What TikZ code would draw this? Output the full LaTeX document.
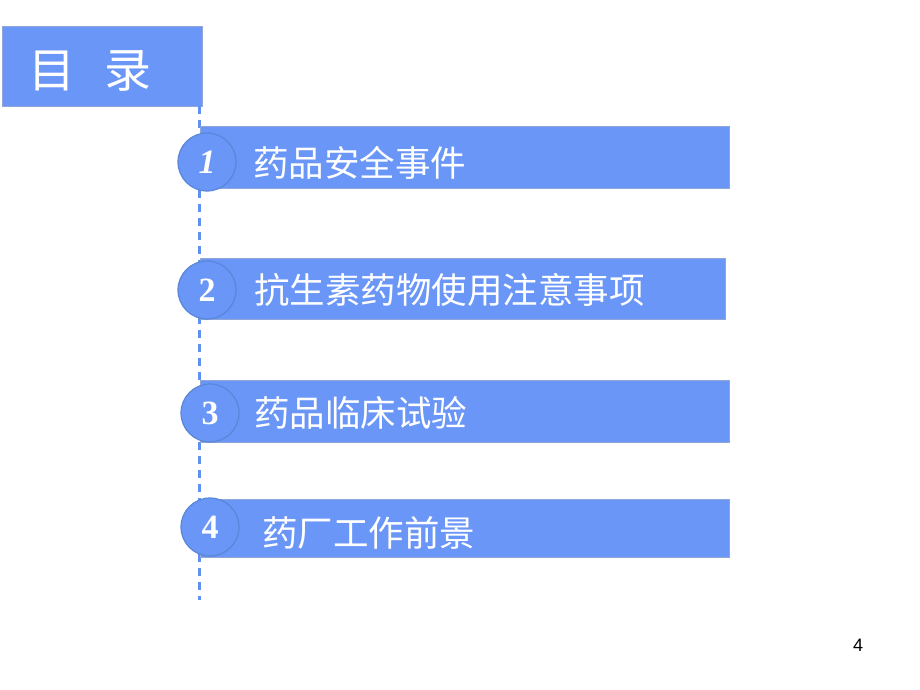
\documentclass[tikz,border=0pt]{standalone}
\usepackage{fontspec}
\newfontfamily\cjk{Noto Sans CJK SC}
\newfontfamily\numfont{Liberation Serif}
\newfontfamily\pgfont{Liberation Sans}
\definecolor{barblue}{HTML}{6A96F8}
\definecolor{edgeblue}{HTML}{8FA6D6}
\definecolor{ringblue}{HTML}{5A86D8}
\definecolor{dashblue}{HTML}{6090F0}
\begin{document}
\begin{tikzpicture}[x=1pt,y=-1pt,
  bar/.style={fill=barblue,draw=edgeblue,line width=1.2pt},
  numcirc/.style={circle,fill=barblue,draw=ringblue,line width=1.2pt,minimum size=58pt,inner sep=0pt,text=white,font=\numfont\bfseries\fontsize{34}{34}\selectfont},
  item/.style={anchor=west,text=white,inner sep=0pt,font=\cjk\fontsize{35.5}{35.5}\selectfont}]
\useasboundingbox (0,0) rectangle (920,690);
\fill[white] (0,0) rectangle (920,690);
% title
\node[bar,anchor=north west,minimum width=200pt,minimum height=80pt,inner sep=0pt] (title) at (2,26) {};
\node[text=white,inner sep=0pt,font=\cjk\fontsize{47}{47}\selectfont] (tt) at (90,71) {目\hspace{30pt}录};
% dashed line
\coordinate (ltop) at (199,106);
\coordinate (lbot) at (199,600);
\draw[dashblue,line width=3pt,dash pattern=on 8pt off 6pt] (ltop) -- (lbot);
% bars
\node[bar,anchor=north west,minimum width=529pt,minimum height=62pt,inner sep=0pt] (b1) at (200,126) {};
\node[bar,anchor=north west,minimum width=525pt,minimum height=61pt,inner sep=0pt] (b2) at (200,258) {};
\node[bar,anchor=north west,minimum width=529pt,minimum height=62pt,inner sep=0pt] (b3) at (200,380) {};
\node[bar,anchor=north west,minimum width=529pt,minimum height=58pt,inner sep=0pt] (b4) at (200,499) {};
% circles
\node[numcirc] (c1) at (207,162) {\textit{1}};
\node[numcirc] (c2) at (207,290) {2};
\node[numcirc] (c3) at (210,413) {3};
\node[numcirc] (c4) at (210,527) {4};
% texts
\node[item] (t1) at (253,163) {药品安全事件};
\node[item] (t2) at (254,290) {抗生素药物使用注意事项};
\node[item] (t3) at (254,413) {药品临床试验};
\node[item] (t4) at (262,533) {药厂工作前景};
% page number
\node[font=\pgfont\fontsize{18}{18}\selectfont,inner sep=0pt] (pg) at (858,645) {4};
\end{tikzpicture}
\end{document}
